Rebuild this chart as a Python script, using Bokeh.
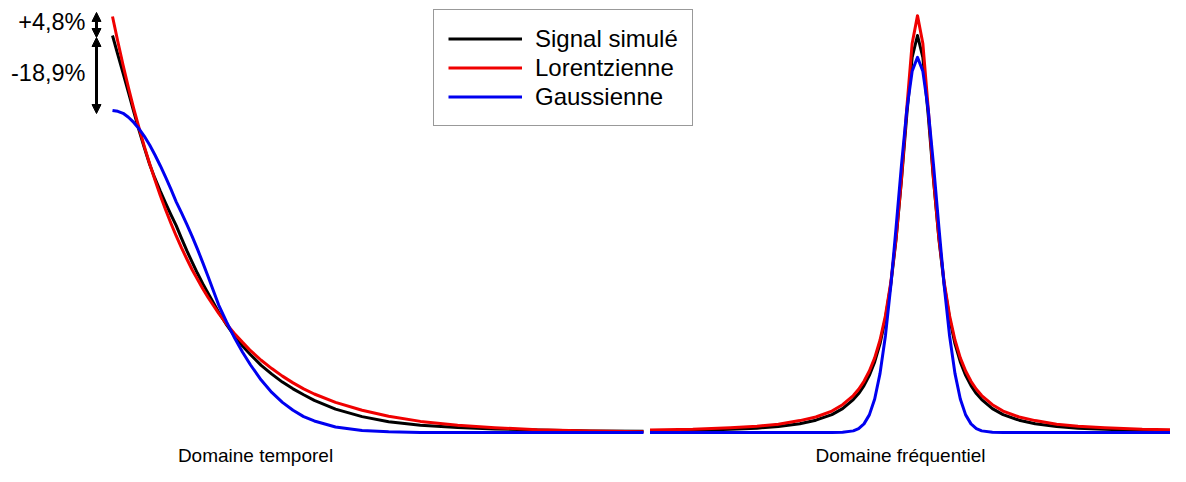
from bokeh.plotting import figure
from bokeh.models import Range1d, Legend, LegendItem, Arrow, NormalHead, Label
from bokeh.embed import file_html
from bokeh.resources import INLINE

# ---- Time domain (t, arbitrary units; amplitude normalised to simulated signal at t=0)
t = [0, 1, 2, 3, 4, 5, 6, 7, 8, 9,
     10, 11, 12, 13, 14, 15, 16, 17, 18, 19,
     20, 21.5, 23, 24.5, 26, 28, 30, 32, 34, 36,
     38, 42, 47, 52, 58, 65, 72, 80, 90, 100]
sim_t = [1.000, 0.952, 0.905, 0.857, 0.808, 0.761, 0.717, 0.675, 0.640, 0.608,
         0.578, 0.549, 0.521, 0.489, 0.458, 0.429, 0.401, 0.375, 0.351, 0.327,
         0.303, 0.271, 0.243, 0.218, 0.196, 0.169, 0.147, 0.127, 0.110, 0.095,
         0.081, 0.059, 0.040, 0.027, 0.0185, 0.0126, 0.009, 0.006, 0.004, 0.003]
lor_t = [1.048, 0.985, 0.925, 0.869, 0.816, 0.767, 0.720, 0.677, 0.636, 0.597,
         0.561, 0.527, 0.495, 0.465, 0.437, 0.410, 0.386, 0.362, 0.340, 0.320,
         0.300, 0.273, 0.249, 0.227, 0.206, 0.182, 0.161, 0.142, 0.125, 0.110,
         0.097, 0.076, 0.056, 0.041, 0.028, 0.018, 0.012, 0.007, 0.004, 0.002]
gau_t = [0.811, 0.809, 0.804, 0.794, 0.781, 0.765, 0.746, 0.724, 0.699, 0.672,
         0.643, 0.613, 0.581, 0.553, 0.524, 0.494, 0.462, 0.428, 0.393, 0.357,
         0.321, 0.278, 0.238, 0.202, 0.170, 0.132, 0.101, 0.076, 0.056, 0.040,
         0.029, 0.014, 0.005, 0.0016, 0.0, 0.0, 0.0, 0.0, 0.0, 0.0]

# ---- Frequency domain (f, arbitrary units centred on the resonance)
f = [-50, -42, -35, -30, -26, -22, -19, -16, -14, -12, -11, -10, -9, -8, -7, -6, -5, -4, -3, -2, -1, 0,
     1, 2, 3, 4, 5, 6, 7, 8, 9, 10, 11, 12, 14, 16, 19, 22, 26, 30, 35, 42, 50]
sim_f = [0.004, 0.005, 0.008, 0.011, 0.015, 0.022, 0.031, 0.045, 0.060, 0.083, 0.098, 0.118, 0.144, 0.178,
         0.224, 0.287, 0.372, 0.487, 0.635, 0.800, 0.945, 1.000,
         0.945, 0.800, 0.635, 0.487, 0.372, 0.287, 0.224, 0.178, 0.144, 0.118, 0.098, 0.083, 0.060, 0.045,
         0.031, 0.022, 0.015, 0.011, 0.008, 0.005, 0.004]
lor_f = [0.006, 0.008, 0.012, 0.016, 0.021, 0.030, 0.039, 0.054, 0.070, 0.093, 0.109, 0.129, 0.155, 0.188,
         0.233, 0.294, 0.377, 0.490, 0.639, 0.817, 0.980, 1.050,
         0.980, 0.817, 0.639, 0.490, 0.377, 0.294, 0.233, 0.188, 0.155, 0.129, 0.109, 0.093, 0.070, 0.054,
         0.039, 0.030, 0.021, 0.016, 0.012, 0.008, 0.006]
gau_f = [0.0, 0.0, 0.0, 0.0, 0.0, 0.0, 0.0, 0.0, 0.0006, 0.0041, 0.0098, 0.0217, 0.0444, 0.0845,
         0.149, 0.243, 0.368, 0.517, 0.673, 0.813, 0.910, 0.945,
         0.910, 0.813, 0.673, 0.517, 0.368, 0.243, 0.149, 0.0845, 0.0444, 0.0217, 0.0098, 0.0041, 0.0006,
         0.0, 0.0, 0.0, 0.0, 0.0, 0.0, 0.0, 0.0]

series_names = ["Signal simulé", "Lorentzienne", "Gaussienne"]
deltas = ["+4,8%", "-18,9%"]
domain_labels = ["Domaine temporel", "Domaine fréquentiel"]

BLACK, RED, BLUE = "#000000", "#f00000", "#0000f0"
FONT = "Liberation Sans"

# layout: picture pixels -> data
W, H = 1170, 466
PX_T = (643 - 112) / 100.0   # pixels per time unit, t=0 at x=112
PX_F = 267.5 / 50.0          # pixels per frequency unit, f=0 at x=917
PX_A = 397.0                 # pixels per amplitude unit, baseline at y=432

p = figure(width=W, height=H, output_backend="svg", toolbar_location=None,
           x_axis_type=None, y_axis_type=None, min_border=0,
           x_range=Range1d((0 - 112) / PX_T, (W - 112) / PX_T),
           y_range=Range1d(-(H - 432) / PX_A, 432 / PX_A),
           outline_line_color=None, background_fill_color="white")
p.extra_x_ranges = {"freq": Range1d((0 - 917) / PX_F, (W - 917) / PX_F)}
p.grid.visible = False

lw = 3
rb = p.line(t, sim_t, line_color=BLACK, line_width=lw, line_join="round")
rr = p.line(t, lor_t, line_color=RED, line_width=lw, line_join="round")
rg = p.line(t, gau_t, line_color=BLUE, line_width=lw, line_join="round")

p.line(f, sim_f, line_color=BLACK, line_width=lw, line_join="round", x_range_name="freq")
p.line(f, lor_f, line_color=RED, line_width=lw, line_join="round", x_range_name="freq")
p.line(f, gau_f, line_color=BLUE, line_width=lw, line_join="round", x_range_name="freq")

legend = Legend(items=[LegendItem(label=series_names[0], renderers=[rb]),
                       LegendItem(label=series_names[1], renderers=[rr]),
                       LegendItem(label=series_names[2], renderers=[rg])],
                location=(433, H - 126), orientation="vertical", padding=14, spacing=0,
                glyph_width=74, glyph_height=29, label_height=29, label_standoff=13,
                label_text_font=FONT, label_text_font_size="24px", label_text_color="black",
                border_line_color="#333333", border_line_width=1.5,
                background_fill_color="white", background_fill_alpha=1.0, margin=0)
p.add_layout(legend)

# difference arrows (tips slightly beyond the curve starts, as in the figure)
ax = (96 - 112) / PX_T
pad = 4 / PX_A
top, mid, bot = lor_t[0] + pad, sim_t[0] - 0.5 * pad, gau_t[0] - 0.75 * pad
for y0, y1 in [(top, mid), (mid, bot)]:
    p.add_layout(Arrow(x_start=ax, y_start=y0, x_end=ax, y_end=y1, line_width=3, line_color="black",
                       start=NormalHead(size=9, fill_color="black", line_color="black", line_width=1),
                       end=NormalHead(size=9, fill_color="black", line_color="black", line_width=1)))

tx = (85 - 112) / PX_T
p.add_layout(Label(x=tx, y=(432 - 21) / PX_A, text=deltas[0], text_align="right",
                   text_baseline="middle", text_font=FONT, text_font_size="23.5px", text_color="black"))
p.add_layout(Label(x=tx, y=(432 - 72) / PX_A, text=deltas[1], text_align="right",
                   text_baseline="middle", text_font=FONT, text_font_size="23.5px", text_color="black"))

ly = -(455 - 432) / PX_A
p.add_layout(Label(x=(255 - 112) / PX_T, y=ly, text=domain_labels[0], text_align="center",
                   text_baseline="middle", text_font=FONT, text_font_size="19px", text_color="black"))
p.add_layout(Label(x=(900 - 917) / PX_F, y=ly, text=domain_labels[1], text_align="center",
                   text_baseline="middle", text_font=FONT, text_font_size="19px", text_color="black",
                   x_range_name="freq"))

open("out.html", "w").write(file_html(p, INLINE))
